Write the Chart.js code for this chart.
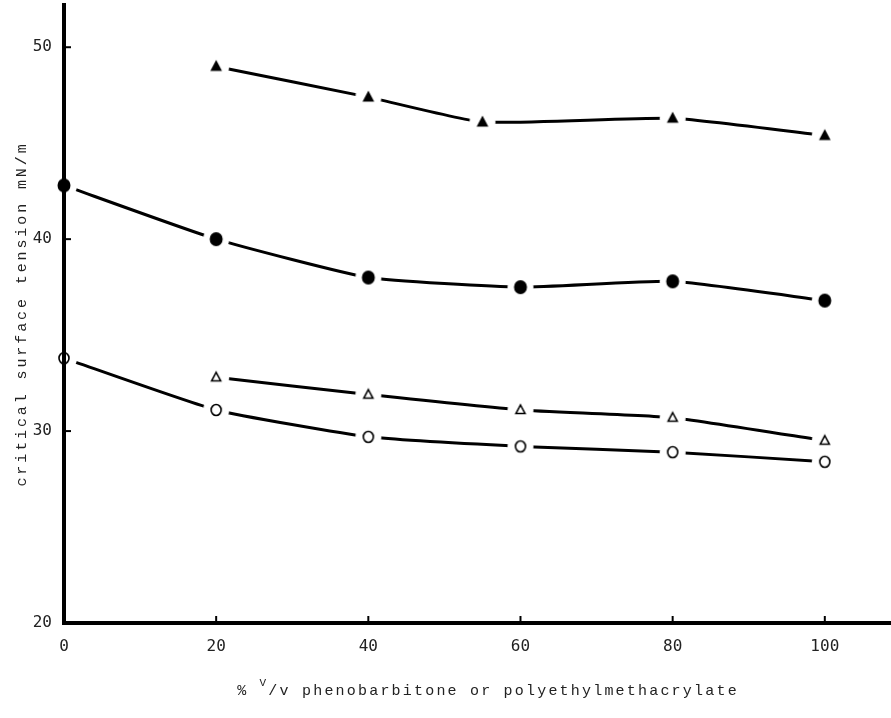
<!DOCTYPE html>
<html>
<head>
<meta charset="utf-8">
<script src="https://cdn.jsdelivr.net/npm/chart.js@4.4.1/dist/chart.umd.min.js"></script>
<style>
  html, body { margin: 0; padding: 0; background: #fff; }
  #wrap { width: 891px; height: 718px; }
</style>
</head>
<body>
<div id="wrap"><canvas id="surfaceChart"></canvas></div>
<script>
// data
var xAll = [0, 20, 40, 60, 80, 100];
var xFilledTri = [20, 40, 55, 80, 100];
var yFilledTri = [49.0, 47.4, 46.1, 46.3, 45.4];
var yFilledCirc = [42.8, 40.0, 38.0, 37.5, 37.8, 36.8];
var xOpenTri = [20, 40, 60, 80, 100];
var yOpenTri = [32.8, 31.9, 31.1, 30.7, 29.5];
var yOpenCirc = [33.8, 31.1, 29.7, 29.2, 28.9, 28.4];

var xTicks = [0, 20, 40, 60, 80, 100];
var yTicks = [20, 30, 40, 50];

var xTitleA = '% ';
var xTitleSup = 'V';
var xTitleB = '/v phenobarbitone or polyethylmethacrylate';
var yTitle = 'critical surface tension mN/m';

function pts(xs, ys) {
    return xs.map(function (x, i) { return { x: x, y: ys[i] }; });
}

// marker with a white halo so the lines stop short of it
function marker(kind, filled) {
    var c = document.createElement('canvas');
    c.width = 28; c.height = 28;
    var g = c.getContext('2d');
    g.fillStyle = '#fff';
    g.beginPath(); g.arc(14, 14, 13, 0, Math.PI * 2); g.fill();
    g.fillStyle = '#000';
    g.strokeStyle = '#000';
    g.lineWidth = 1.6;
    g.beginPath();
    if (kind === 'tri') {
        var s = filled ? 6.5 : 5;
        g.moveTo(14, 14 - s);
        g.lineTo(14 + s * 0.9, 14 + s * 0.7);
        g.lineTo(14 - s * 0.9, 14 + s * 0.7);
        g.closePath();
    } else {
        if (filled) g.ellipse(14, 14, 6.5, 7, 0, 0, Math.PI * 2);
        else g.ellipse(14, 14, 5, 5.5, 0, 0, Math.PI * 2);
    }
    if (filled) g.fill(); else g.stroke();
    return c;
}

function series(data, style) {
    return {
        data: data,
        borderColor: '#000',
        borderWidth: 3,
        tension: 0.15,
        pointStyle: style,
        pointRadius: 10,
        pointHoverRadius: 10,
        clip: false
    };
}

var innerTicks = {
    id: 'innerTicks',
    afterDraw: function (chart) {
        var ctx = chart.ctx, a = chart.chartArea;
        var xs = chart.scales.x, ys = chart.scales.y;
        ctx.save();
        ctx.strokeStyle = '#000';
        ctx.lineWidth = 2;
        yTicks.forEach(function (v) {
            if (v === ys.min) return;
            var py = ys.getPixelForValue(v);
            ctx.beginPath(); ctx.moveTo(a.left, py); ctx.lineTo(a.left + 7, py); ctx.stroke();
        });
        xTicks.forEach(function (v) {
            if (v === xs.min) return;
            var px = xs.getPixelForValue(v);
            ctx.beginPath(); ctx.moveTo(px, a.bottom); ctx.lineTo(px, a.bottom - 7); ctx.stroke();
        });

        // axis titles
        ctx.fillStyle = '#222';
        ctx.textBaseline = 'middle';
        ctx.letterSpacing = '2.2px';
        ctx.font = '15px "Liberation Mono"';
        var wA = ctx.measureText(xTitleA).width;
        var wB = ctx.measureText(xTitleB).width;
        ctx.font = '11px "Liberation Mono"';
        var wS = ctx.measureText(xTitleSup).width;
        var x0 = 488 - (wA + wS + wB) / 2, yT = 691;
        ctx.textAlign = 'left';
        ctx.font = '15px "Liberation Mono"';
        ctx.fillText(xTitleA, x0, yT);
        ctx.font = '11px "Liberation Mono"';
        ctx.fillText(xTitleSup, x0 + wA, yT - 8);
        ctx.font = '15px "Liberation Mono"';
        ctx.fillText(xTitleB, x0 + wA + wS, yT);

        ctx.letterSpacing = '2.9px';
        ctx.translate(22, (a.top + a.bottom) / 2);
        ctx.rotate(-Math.PI / 2);
        ctx.textAlign = 'center';
        ctx.fillText(yTitle, 0, 0);
        ctx.restore();
    }
};

var ctxS = document.getElementById('surfaceChart').getContext('2d');

var surfaceChart = new Chart(ctxS, {
    type: 'line',
    data: {
        datasets: [
            series(pts(xFilledTri, yFilledTri), marker('tri', true)),
            series(pts(xAll, yFilledCirc), marker('circ', true)),
            series(pts(xOpenTri, yOpenTri), marker('tri', false)),
            series(pts(xAll, yOpenCirc), marker('circ', false))
        ]
    },
    options: {
        responsive: true,
        maintainAspectRatio: false,
        animation: false,
        layout: { autoPadding: false, padding: { top: 5, right: 0, left: 0, bottom: 0 } },
        plugins: { legend: { display: false }, tooltip: { enabled: false } },
        scales: {
            x: {
                type: 'linear',
                min: 0,
                max: 108.7,
                grid: { display: false },
                border: { display: true, color: '#000', width: 4, z: 1 },
                afterBuildTicks: function (s) { s.ticks = xTicks.map(function (v) { return { value: v }; }); },
                afterFit: function (s) { s.height = 95; s.paddingLeft = 0; s.paddingRight = 0; },
                ticks: {
                    color: '#222',
                    padding: 6,
                    maxRotation: 0,
                    font: { family: 'DejaVu Sans Mono', size: 16 }
                }
            },
            y: {
                type: 'linear',
                min: 20,
                max: 52.2,
                grid: { display: false },
                border: { display: true, color: '#000', width: 4, z: 1 },
                afterBuildTicks: function (s) { s.ticks = yTicks.map(function (v) { return { value: v }; }); },
                afterFit: function (s) { s.width = 64; s.paddingTop = 0; s.paddingBottom = 0; },
                ticks: {
                    color: '#222',
                    padding: 4,
                    font: { family: 'DejaVu Sans Mono', size: 16 }
                }
            }
        }
    },
    plugins: [innerTicks]
});
</script>
</body>
</html>
